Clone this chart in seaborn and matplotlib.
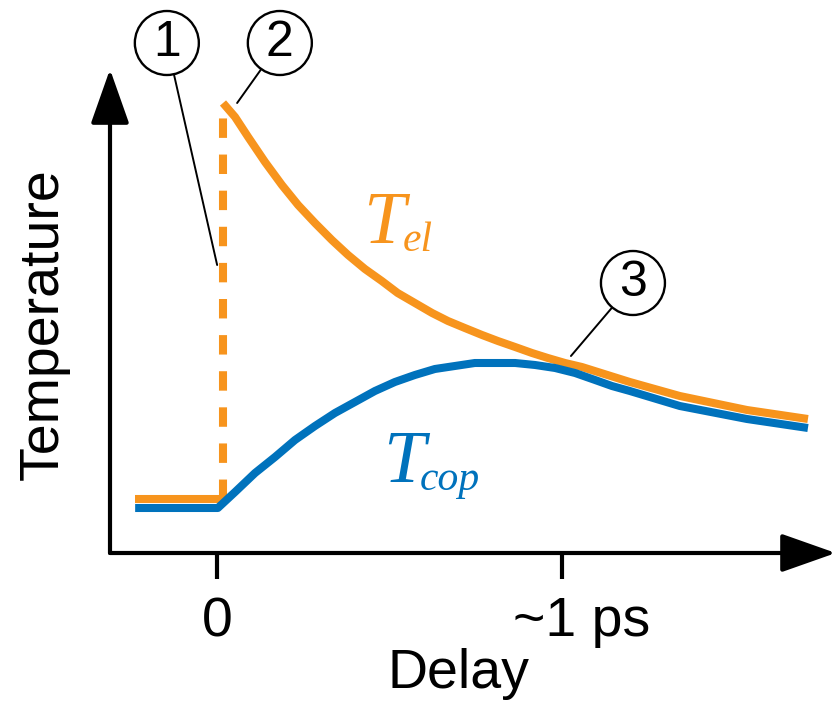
import matplotlib
matplotlib.use("Agg")
import matplotlib.pyplot as plt
import matplotlib.transforms as mtrans
import seaborn as sns

# curve values (delay in ps, temperature in arb. units)
tel_base_delay = [-0.239, 0.016]
tel_base_temp = [0.54, 0.54]
tel_jump_delay = [0.016, 0.016]
tel_jump_temp = [0.54, 4.50]
tel_delay = [0.016, 0.051, 0.089, 0.138, 0.187, 0.234, 0.283, 0.332, 0.379,
             0.428, 0.477, 0.523, 0.573, 0.623, 0.669, 0.718, 0.768, 0.814,
             0.864, 0.913, 0.959, 1.009, 1.058, 1.197, 1.342, 1.537, 1.714]
tel_temp = [4.50, 4.36, 4.16, 3.91, 3.68, 3.48, 3.30, 3.13, 2.98,
            2.84, 2.72, 2.60, 2.50, 2.40, 2.32, 2.25, 2.18, 2.12,
            2.06, 2.00, 1.95, 1.90, 1.86, 1.71, 1.57, 1.43, 1.34]
tcop_delay = [-0.239, 0.001, 0.051, 0.109, 0.167, 0.225, 0.283, 0.341, 0.399,
              0.457, 0.515, 0.573, 0.631, 0.689, 0.747, 0.806, 0.864, 0.922,
              0.980, 1.038, 1.096, 1.145, 1.197, 1.342, 1.537, 1.714]
tcop_temp = [0.45, 0.45, 0.61, 0.80, 0.96, 1.13, 1.27, 1.40, 1.51,
             1.62, 1.71, 1.78, 1.84, 1.87, 1.90, 1.90, 1.90, 1.88,
             1.85, 1.80, 1.73, 1.67, 1.62, 1.47, 1.34, 1.25]

tick_pos = [0, 1]
tick_labels = ["0", "~1 ps"]

# numbered markers: (label, point on curve, circle centre)
markers = [
    ("1", (-0.001, 2.88), (-0.147, 5.10)),
    ("2", (0.057, 4.50), (0.181, 5.10)),
    ("3", (1.026, 1.97), (1.206, 2.70)),
]

ORANGE = "#F7941D"
BLUE = "#0072BC"

sns.set_theme(style="white", rc={
    "text.color": "black",
    "axes.labelcolor": "black",
    "xtick.color": "black",
    "lines.solid_capstyle": "butt",
    "lines.solid_joinstyle": "round",
    "lines.scale_dashes": False,
})
plt.rcParams["font.family"] = ["Liberation Sans", "DejaVu Sans"]

fig = plt.figure(figsize=(8.33, 7.03), dpi=100)
ax = fig.add_axes([110 / 833, 150 / 703, 720 / 833, 478 / 703])
ax.set_xlim(-0.312, 1.778)
ax.set_ylim(0, 4.78)

lw = 5.8
sns.lineplot(x=tel_base_delay, y=tel_base_temp, ax=ax, color=ORANGE, lw=lw,
             estimator=None, sort=False)
dash = sns.lineplot(x=tel_jump_delay, y=tel_jump_temp, ax=ax, color=ORANGE,
                    lw=lw, estimator=None, sort=False).lines[-1]
dash.set_dashes((14, 12))
sns.lineplot(x=tel_delay, y=tel_temp, ax=ax, color=ORANGE, lw=lw,
             estimator=None, sort=False)
sns.lineplot(x=tcop_delay, y=tcop_temp, ax=ax, color=BLUE, lw=lw,
             estimator=None, sort=False)

# axes drawn as arrows
for end in [(1.008, 0), (0, 1.012)]:
    ax.annotate("", xy=end, xytext=(0, 0), xycoords="axes fraction",
                arrowprops=dict(arrowstyle="-|>,head_length=34,head_width=12",
                                mutation_scale=1, lw=3, color="black",
                                shrinkA=0, shrinkB=0))
for s in ax.spines.values():
    s.set_visible(False)

ax.set_xticks(tick_pos)
ax.set_xticklabels(tick_labels)
ax.set_yticks([])
ax.tick_params(axis="x", bottom=True, length=19, width=3, direction="out",
               pad=12, labelsize=40)
lab = ax.get_xticklabels()[1]
lab.set_transform(lab.get_transform() +
                  mtrans.ScaledTranslation(0.20, 0, fig.dpi_scale_trans))

ax.set_xlabel("Delay", fontsize=40)
ax.xaxis.set_label_coords((458 - 110) / 720, -0.198)
ax.set_ylabel("Temperature", fontsize=40)
ax.yaxis.set_label_coords((70 - 110) / 720, (553 - 324) / 478)

# curve labels
serif = dict(family="Liberation Serif", style="italic")
ax.text(0.422, 3.10, "T", color=ORANGE, fontsize=54, va="baseline", **serif)
ax.text(0.538, 3.02, "el", color=ORANGE, fontsize=30, va="baseline", **serif)
ax.text(0.480, 0.71, "T", color=BLUE, fontsize=54, va="baseline", **serif)
ax.text(0.587, 0.63, "cop", color=BLUE, fontsize=30, va="baseline", **serif)

for num, pt, centre in markers:
    ax.annotate(num, xy=pt, xytext=centre, fontsize=36, ha="center",
                va="center", annotation_clip=False,
                bbox=dict(boxstyle="circle,pad=0.18", fc="white", ec="black",
                          lw=1.7),
                arrowprops=dict(arrowstyle="-", lw=1.4, color="black",
                                shrinkA=0, shrinkB=0))

fig.savefig("out.png", dpi=100)
